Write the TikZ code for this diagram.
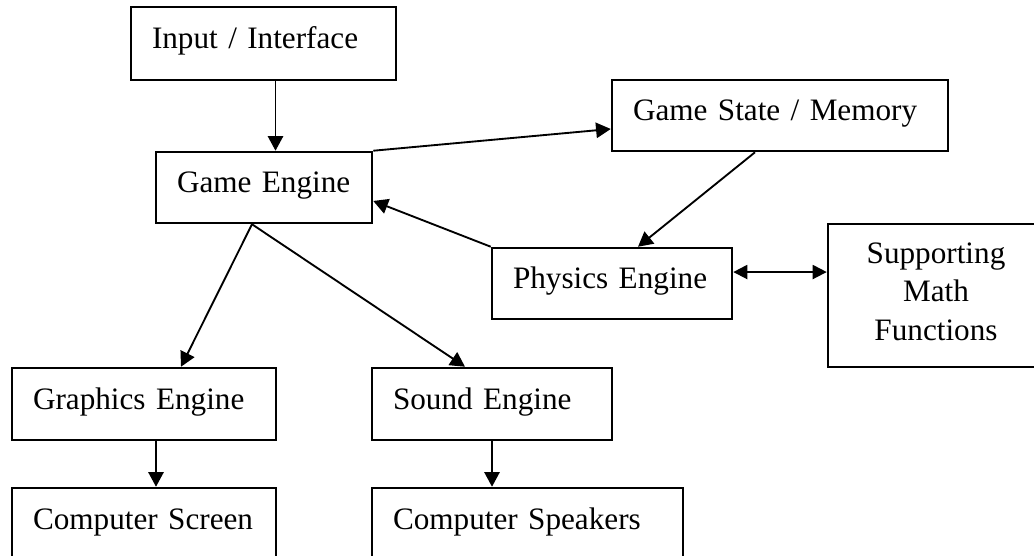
\documentclass[tikz,border=0pt]{standalone}
\usepackage{fontspec}
\setmainfont{Liberation Serif}
\usetikzlibrary{arrows.meta,calc}
\begin{document}
\begin{tikzpicture}[x=0.75pt,y=-0.75pt,
  box/.style={draw, line width=1.9pt, inner xsep=15.75pt, inner ysep=0pt,
    align=left, font=\fontsize{23.4pt}{28pt}\selectfont,
    text height=16.6pt, text depth=8.6pt},
  mbox/.style={draw, line width=1.9pt, inner xsep=15.75pt, inner ysep=0pt,
    align=center, font=\fontsize{23.4pt}{29pt}\selectfont,
    text height=16.5pt, text depth=65.25pt},
  arr/.style={line width=1.4pt, -{Triangle[length=11pt,width=11.5pt]}},
  darr/.style={line width=1.4pt, {Triangle[length=10.5pt,width=10.5pt]}-{Triangle[length=10.5pt,width=10.5pt]}}
]
\useasboundingbox (0,0) rectangle (1034,556);
\fill[white] (0,0) rectangle (1034,556);

\node[box, text width=167.25pt, minimum height=54.75pt] (in) at (263.5,43.5) {\mbox{Input / Interface}};
\node[box, text width=130.5pt, minimum height=53.25pt] (ge) at (264,187.5) {\mbox{Game Engine}};
\node[box, text width=220.5pt, minimum height=53.25pt] (gs) at (780,115.5) {\mbox{Game State / Memory}};
\node[box, text width=148.5pt, minimum height=53.25pt] (ph) at (612,283.5) {\mbox{Physics Engine}};
\node[mbox, text width=130.5pt, minimum height=107.25pt] (sm) at (936,295.5) {Supporting\\Math\\Functions};
\node[box, text width=166.5pt, minimum height=54pt] (gr) at (144,404) {\mbox{Graphics Engine}};
\node[box, text width=148.5pt, minimum height=54pt] (sd) at (492,404) {\mbox{Sound Engine}};
\node[box, text width=166.5pt, minimum height=54pt] (sc) at (144,524) {\mbox{Computer Screen}};
\node[box, text width=201.75pt, minimum height=54pt] (sp) at (527.5,524) {\mbox{Computer Speakers}};

\coordinate (a1) at ([xshift=9pt]in.south);
\draw[arr] (a1) -- (a1 |- ge.north);
\draw[arr] (ge.north east) -- ([yshift=-10.1pt]gs.west);
\draw[arr] ([xshift=-18.75pt]gs.south) -- ([xshift=19.5pt]ph.north);
\draw[arr] (ph.north west) -- ([yshift=-10.1pt]ge.east);
\coordinate (b1) at ([yshift=8.6pt]ph.east);
\draw[darr] (b1) -- (b1 -| sm.west);
\draw[arr] ([xshift=-9pt]ge.south) -- ([xshift=27.75pt]gr.north);
\draw[arr] ([xshift=-9pt]ge.south) -- ([xshift=-20.25pt]sd.north);
\coordinate (c1) at ([xshift=9pt]gr.south);
\draw[arr] (c1) -- (c1 |- sc.north);
\draw[arr] (sd.south) -- (sd.south |- sp.north);
\end{tikzpicture}
\end{document}
